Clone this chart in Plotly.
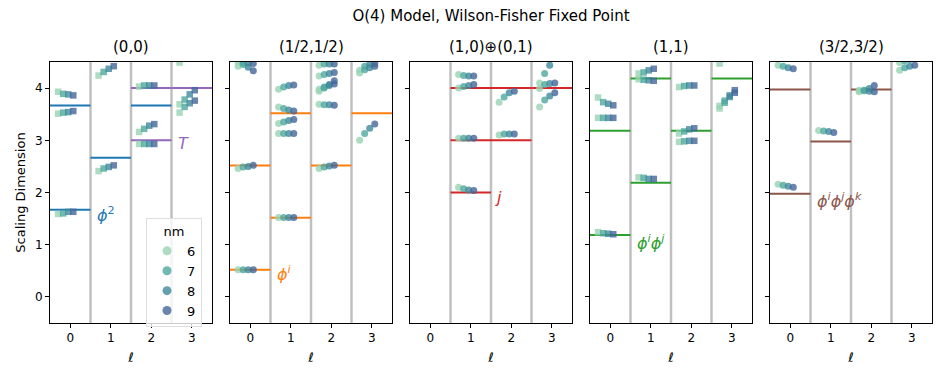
import plotly.graph_objects as go

# -------- data --------
NM = [6, 7, 8, 9]
NM_COLORS = ["#98d3b3", "#4fa89f", "#3f8a9a", "#44679a"]

PANELS = ["(0,0)", "(1/2,1/2)", "(1,0)⊕(0,1)", "(1,1)", "(3/2,3/2)"]

# numerical levels: spin ell of each group, then dims for nm = 6, 7, 8, 9
ELL_00 = [0, 0, 0, 1, 1, 2, 2, 2, 3, 3, 3]
DIM_00 = [
    [1.59, 1.60, 1.63, 1.63],
    [3.51, 3.53, 3.54, 3.56],
    [3.93, 3.89, 3.88, 3.86],
    [2.41, 2.46, 2.49, 2.52],
    [4.24, 4.31, 4.37, 4.42],
    [2.93, 2.93, 2.93, 2.93],
    [3.16, 3.22, 3.28, 3.31],
    [4.03, 4.05, 4.05, 4.05],
    [3.53, 3.64, 3.71, 3.76],
    [3.69, 3.78, 3.88, 3.96],
    [4.49, 4.58, 4.66, 4.72],
]

ELL_HH = [0, 0, 0, 0, 1, 1, 1, 1, 1, 2, 2, 2, 2, 2, 2, 3, 3, 3]
DIM_HH = [
    [0.52, 0.52, 0.52, 0.52],
    [2.46, 2.49, 2.50, 2.52],
    [4.42, 4.45, 4.40, 4.33],
    [4.50, 4.49, 4.48, 4.47],
    [1.52, 1.52, 1.52, 1.52],
    [3.13, 3.13, 3.13, 3.13],
    [3.32, 3.35, 3.38, 3.40],
    [3.64, 3.61, 3.58, 3.56],
    [3.98, 4.02, 4.05, 4.06],
    [2.46, 2.49, 2.51, 2.52],
    [3.69, 3.68, 3.68, 3.67],
    [3.94, 4.00, 4.07, 4.14],
    [3.98, 4.02, 4.05, 4.08],
    [4.23, 4.26, 4.28, 4.30],
    [4.44, 4.46, 4.46, 4.46],
    [3.00, 3.13, 3.23, 3.31],
    [4.29, 4.35, 4.39, 4.42],
    [4.34, 4.42, 4.46, 4.47],
]

ELL_10 = [1, 1, 1, 1, 2, 2, 3, 3, 3]
DIM_10 = [
    [2.10, 2.07, 2.05, 2.04],
    [3.04, 3.04, 3.04, 3.04],
    [4.00, 4.03, 4.05, 4.07],
    [4.26, 4.24, 4.23, 4.23],
    [3.10, 3.12, 3.12, 3.12],
    [3.73, 3.83, 3.91, 3.94],
    [3.64, 3.77, 3.85, 3.91],
    [3.99, 4.07, 4.09, 4.10],
    [4.10, 4.28, 4.44, 4.60],
]

ELL_11 = [0, 0, 0, 1, 1, 1, 2, 2, 2, 3, 3, 3]
DIM_11 = [
    [1.24, 1.22, 1.21, 1.20],
    [3.43, 3.43, 3.43, 3.43],
    [3.82, 3.73, 3.70, 3.67],
    [2.29, 2.28, 2.26, 2.26],
    [4.17, 4.16, 4.15, 4.14],
    [4.28, 4.30, 4.34, 4.37],
    [2.97, 2.98, 2.99, 2.99],
    [3.13, 3.17, 3.21, 3.23],
    [4.02, 4.04, 4.05, 4.05],
    [3.61, 3.72, 3.83, 3.91],
    [3.66, 3.76, 3.86, 3.96],
    [4.47, 4.56, 4.62, 4.68],
]

ELL_33 = [0, 0, 1, 2, 2, 3, 3]
DIM_33 = [
    [2.16, 2.14, 2.12, 2.10],
    [4.44, 4.42, 4.39, 4.37],
    [3.19, 3.18, 3.17, 3.15],
    [3.93, 3.96, 3.99, 4.05],
    [3.96, 3.95, 3.94, 3.93],
    [4.34, 4.39, 4.42, 4.44],
    [4.49, 4.52, 4.55, 4.58],
]

# conformal-multiplet reference levels: (ell, dimension)
REF_00 = [(0, 1.668), (1, 2.668), (0, 3.668), (2, 3.668)]
REF_00_T = [(2, 3.0), (2, 4.0), (3, 4.0)]
REF_HH = [(0, 0.518), (1, 1.518), (0, 2.518), (2, 2.518), (1, 3.518), (3, 3.518)]
REF_10 = [(1, 2.0), (1, 3.0), (2, 3.0), (1, 4.0), (2, 4.0), (3, 4.0)]
REF_11 = [(0, 1.185), (1, 2.185), (0, 3.185), (2, 3.185), (1, 4.185), (3, 4.185)]
REF_33 = [(0, 1.975), (1, 2.975), (0, 3.975), (2, 3.975)]

# primary labels: text, ell position, dimension
LABELS = [
    [("<i>ϕ</i><sup>2</sup>", 0.6, 1.57), ("<i>T</i>", 2.6, 2.93)],
    [("<i>ϕ<sup>i</sup></i>", 0.6, 0.44)],
    [("<i>j</i>", 1.55, 1.91)],
    [("<i>ϕ<sup>i</sup>ϕ<sup>j</sup></i>", 0.6, 1.05)],
    [("<i>ϕ<sup>i</sup>ϕ<sup>j</sup>ϕ<sup>k</sup></i>", 0.6, 1.85)],
]

# -------- styling --------
FONT = "DejaVu Sans"
C_BLUE, C_ORANGE, C_RED = "#1f77b4", "#ff7f0e", "#d62728"
C_GREEN, C_BROWN, C_PURPLE = "#2ca02c", "#8c564b", "#9467bd"

panel_data = [
    (ELL_00, DIM_00, "square", [(REF_00, C_BLUE), (REF_00_T, C_PURPLE)]),
    (ELL_HH, DIM_HH, "circle", [(REF_HH, C_ORANGE)]),
    (ELL_10, DIM_10, "circle", [(REF_10, C_RED)]),
    (ELL_11, DIM_11, "square", [(REF_11, C_GREEN)]),
    (ELL_33, DIM_33, "circle", [(REF_33, C_BROWN)]),
]
label_colors = [[C_BLUE, C_PURPLE], [C_ORANGE], [C_RED], [C_GREEN], [C_BROWN]]

# the page body has an 8px margin, so the figure sits at (8, 8) in the window
OFF = 8
W, H = 947 - OFF, 379 - OFF
ML, MT = 50 - OFF, 62 - OFF
MR, MB = W - (932 - OFF), H - (323 - OFF)
PW, GAP = 162, 18
plot_w = W - ML - MR
plot_h = H - MT - MB

fig = go.Figure()
layout = {}
shapes = []
annotations = []

for i, (ells, dims, symbol, refs) in enumerate(panel_data):
    sfx = "" if i == 0 else str(i + 1)
    xa, ya = f"x{sfx}", f"y{sfx}"

    # vertical separators between ell bins
    for xv in [0.5, 1.5, 2.5]:
        shapes.append(dict(type="line", xref=xa, yref=f"{ya} domain", x0=xv, x1=xv, y0=0, y1=1,
                           line=dict(color="rgba(150,150,150,0.6)", width=2.5), layer="below"))

    # reference levels
    for ref, col in refs:
        for ell, d in ref:
            fig.add_trace(go.Scatter(x=[ell - 0.5, ell + 0.5], y=[d, d], mode="lines",
                                     line=dict(color=col, width=2), xaxis=xa, yaxis=ya,
                                     showlegend=False, hoverinfo="skip"))

    # numerical data, one trace per nm
    for k, nm in enumerate(NM):
        xs = [ell - 0.3 + 0.125 * k for ell in ells]
        ys = [row[k] for row in dims]
        fig.add_trace(go.Scatter(x=xs, y=ys, mode="markers", xaxis=xa, yaxis=ya,
                                 marker=dict(symbol=symbol, size=7 if symbol == "circle" else 6.5,
                                             color=NM_COLORS[k], opacity=0.8, line=dict(width=0)),
                                 showlegend=False, name=str(nm)))

    x0 = i * (PW + GAP) / plot_w
    x1 = min(1.0, x0 + PW / plot_w)
    layout[f"xaxis{sfx}"] = dict(
        domain=[x0, x1], anchor=ya, range=[-0.5, 3.5], tickvals=[0, 1, 2, 3],
        showline=True, mirror=True, linecolor="black", linewidth=1,
        ticks="outside", ticklen=4, tickcolor="black", showgrid=False, zeroline=False,
        tickfont=dict(size=12, color="black"), automargin=False,
        title=dict(text="<i>ℓ</i>", font=dict(size=13, color="black"), standoff=8),
    )
    layout[f"yaxis{sfx}"] = dict(
        domain=[0, 1], anchor=xa, range=[-0.5, 4.5], tickvals=[0, 1, 2, 3, 4],
        showline=True, mirror=True, linecolor="black", linewidth=1,
        ticks="outside", ticklen=4, tickcolor="black", showgrid=False, zeroline=False,
        showticklabels=(i == 0), tickfont=dict(size=12, color="black"), automargin=False,
        title=dict(text="Scaling Dimension" if i == 0 else "",
                   font=dict(size=13, color="black"), standoff=6),
    )

    annotations.append(dict(text=PANELS[i], xref=f"{xa} domain", yref=f"{ya} domain",
                            x=0.5, y=1, yanchor="bottom", yshift=4, showarrow=False,
                            font=dict(size=15, color="black")))
    for (txt, lx, ly), col in zip(LABELS[i], label_colors[i]):
        annotations.append(dict(text=txt, xref=xa, yref=ya, x=lx, y=ly, xanchor="left",
                                yanchor="middle", showarrow=False,
                                font=dict(size=16, color=col)))

# legend entries
for k, nm in enumerate(NM):
    fig.add_trace(go.Scatter(x=[None], y=[None], mode="markers", name=str(nm),
                             marker=dict(symbol="circle", size=9, color=NM_COLORS[k], opacity=0.8),
                             xaxis="x", yaxis="y", showlegend=True))

fig.update_layout(
    **layout,
    width=W, height=H,
    margin=dict(l=ML, r=MR, t=MT, b=MB, autoexpand=False),
    paper_bgcolor="white", plot_bgcolor="white",
    font=dict(family=FONT, color="black"),
    title=dict(text="O(4) Model, Wilson-Fisher Fixed Point", x=0.5, xanchor="center",
               xref="paper", y=1 - 2.5 / H, yanchor="top", pad=dict(t=0, b=0),
               font=dict(size=15, color="black")),
    shapes=shapes,
    annotations=annotations,
    legend=dict(
        title=dict(text="nm", side="top center", font=dict(size=13)),
        x=(146 - 50) / plot_w, xanchor="left",
        y=(323 - 218) / plot_h, yanchor="top",
        bgcolor="rgba(255,255,255,0.8)", bordercolor="#dddddd", borderwidth=1,
        font=dict(size=13, color="black"), itemwidth=30, tracegroupgap=0,
    ),
)

fig.write_html("out.html")
